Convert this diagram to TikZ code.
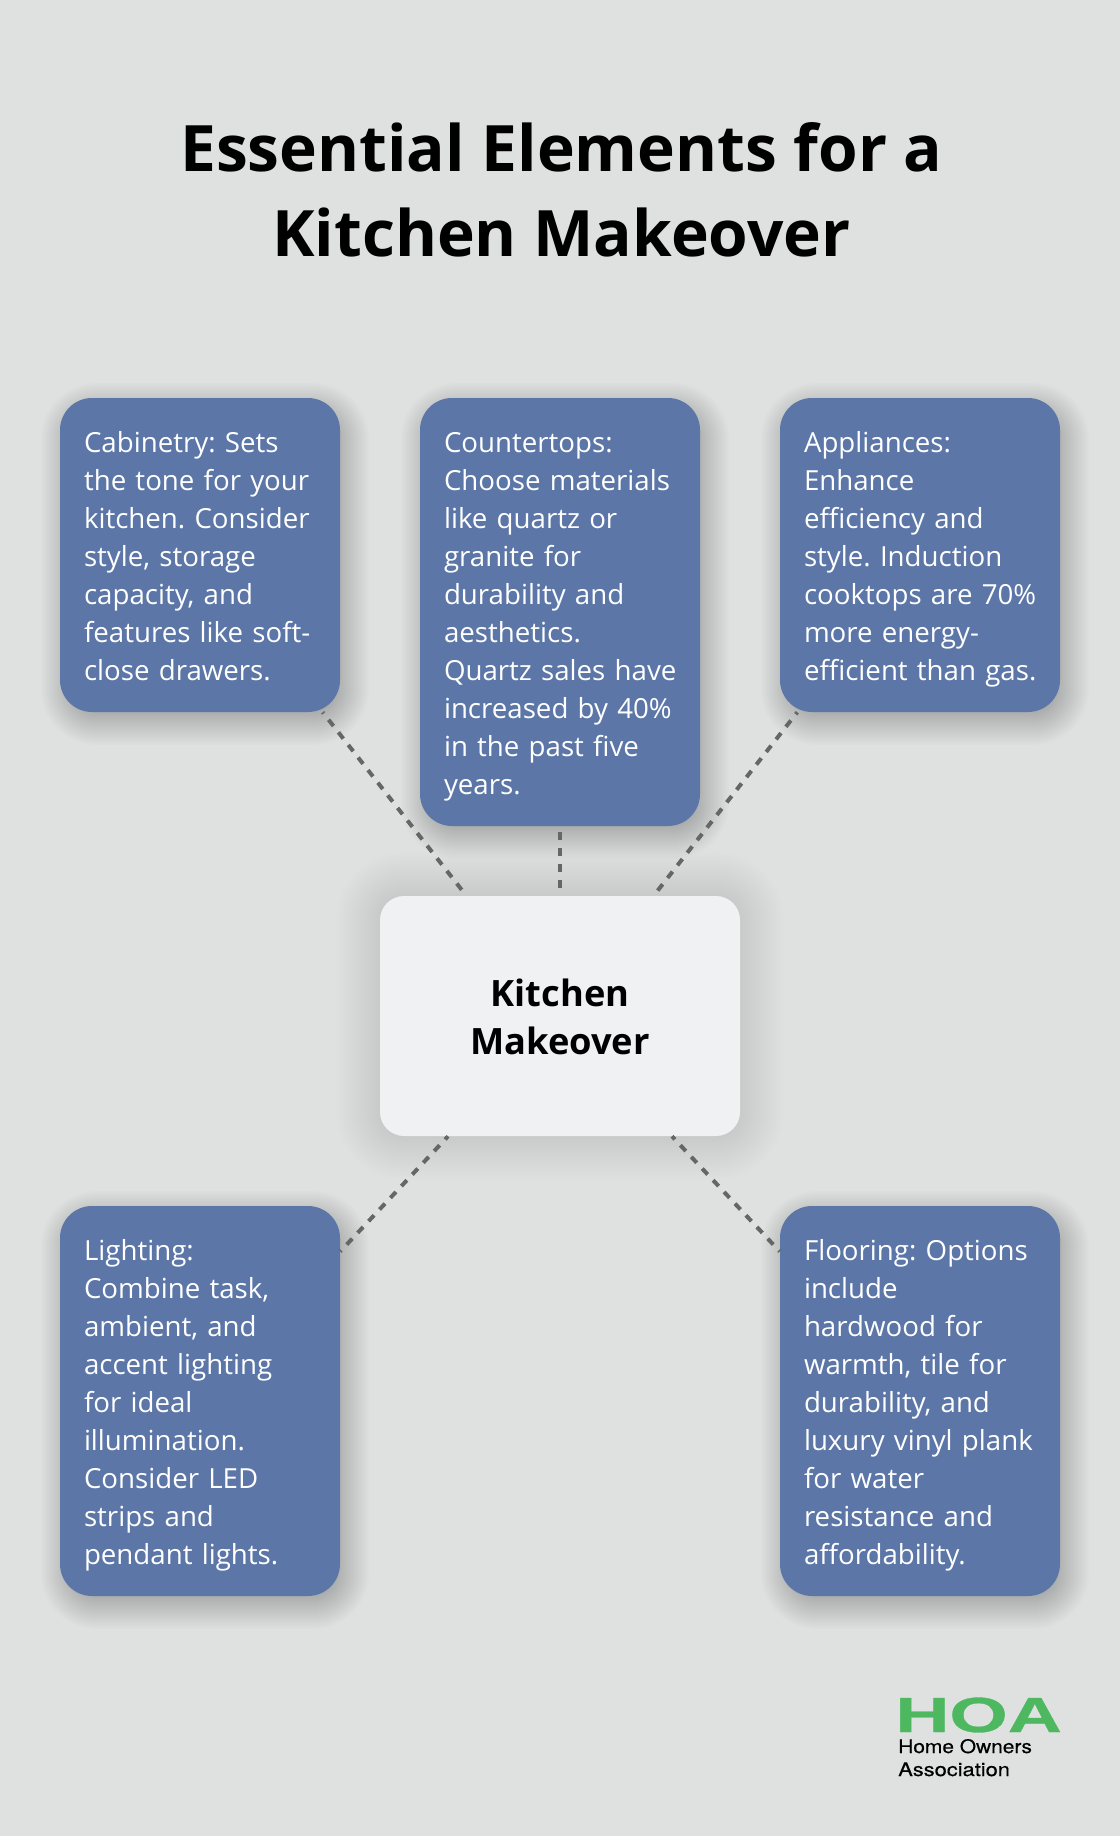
\documentclass[tikz,border=0pt]{standalone}
\usepackage{fontspec}
\usepackage{graphicx}
\setmainfont{Open Sans}
\newfontfamily\logofont[FakeBold=0.6]{Liberation Sans}
\newfontfamily\logotext[FakeBold=0.35]{TeX Gyre Heros}
\definecolor{pagebg}{HTML}{DEE1E0}
\definecolor{cardblue}{HTML}{5B76A7}
\definecolor{corewhite}{HTML}{F0F1F3}
\definecolor{linkgrey}{HTML}{666666}
\definecolor{hoagreen}{HTML}{4DB860}
\newcommand{\softshadow}[7]{%
  \pgfmathtruncatemacro{\secondval}{-#6+2}%
  \foreach \s in {-#6,\secondval,...,#6}{%
    \pgfmathsetmacro{\rr}{max(1,#5+\s)}%
    \fill[black,opacity=#7,rounded corners=\rr*0.75pt] ({#1-\s},{#2-\s}) rectangle ({#3+\s},{#4+\s});
  }%
}
\tikzset{
  x=0.75pt,y=-0.75pt,
  card/.style={fill=cardblue,text=white,rounded corners=24pt,minimum width=210pt,text width=174pt,inner xsep=18pt,inner ysep=0pt,align=left,font=\fontsize{20.75}{28.5}\selectfont\frenchspacing},
  core/.style={fill=corewhite,text=black,rounded corners=18pt,minimum width=270pt,minimum height=180pt,inner sep=0pt,align=center,font=\fontsize{27.2}{36}\selectfont\bfseries},
  title/.style={text=black,align=center,inner sep=0pt,font=\fontsize{48}{63.75}\selectfont\bfseries},
  link/.style={draw=linkgrey,line width=3pt,dash pattern=on 6pt off 6pt,dash phase=4.9pt},
}
\newcommand{\firstl}{\rule{0pt}{22.5pt}}
\newcommand{\lastl}{\rule[-6pt]{0pt}{6pt}}
\begin{document}
\begin{tikzpicture}
\useasboundingbox (0,0) rectangle (1120,1836);
\fill[pagebg] (0,0) rectangle (1120,1836);
\softshadow{380}{896}{740}{1136}{24}{44}{0.0035}
\softshadow{65}{407}{345}{721}{32}{24}{0.013}
\softshadow{425}{407}{705}{835}{32}{24}{0.013}
\softshadow{785}{407}{1065}{721}{32}{24}{0.013}
\softshadow{65}{1215}{345}{1605}{32}{24}{0.013}
\softshadow{785}{1215}{1065}{1605}{32}{24}{0.013}

\node[title] (ttl) at (561.5,190) {Essential Elements for a\\Kitchen Makeover};

\node[core] (mid) at (560,1016) {\rule{0pt}{22.3pt}Kitchen\\Makeover};
\node[card,minimum height=235.5pt] (cab) at (200,555) {\firstl Cabinetry: Sets\\the tone for your\\kitchen. Consider\\style, storage\\capacity, and\\features like soft-\\close drawers.\lastl};
\node[card,minimum height=321pt] (cou) at (560,612) {\firstl Countertops:\\Choose materials\\like quartz or\\granite for\\durability and\\aesthetics.\\\mbox{Quartz sales have}\\increased by 40\%\\in the past five\\years.\lastl};
\node[card,minimum height=235.5pt] (app) at (920,555) {\firstl Appliances:\\Enhance\\efficiency and\\style. Induction\\\mbox{cooktops are 70\%}\\more energy-\\\mbox{efficient than gas.}\lastl};
\node[card,minimum height=292.5pt] (lig) at (200,1401) {\firstl Lighting:\\Combine task,\\ambient, and\\accent lighting\\for ideal\\illumination.\\Consider LED\\strips and\\pendant lights.\lastl};
\node[card,minimum height=292.5pt] (flo) at (920,1401) {\firstl Flooring: Options\\include\\hardwood for\\warmth, tile for\\durability, and\\luxury vinyl plank\\for water\\resistance and\\affordability.\lastl};

\draw[link] (cab) -- (mid);
\draw[link,dash phase=7.5pt] (cou) -- (mid);
\draw[link,dash phase=4.2pt] (app) -- (mid);
\draw[link] (lig) -- (mid);
\draw[link] (flo) -- (mid);

\node[anchor=base west,inner sep=0pt,text=hoagreen,font=\fontsize{37}{37}\logofont\bfseries] (hoa) at (895,1732) {\scalebox{1.52}[1]{HOA}};
\node[anchor=base west,inner sep=0pt,text=black,font=\fontsize{14}{14}\logotext] (hoa1) at (898,1753) {\scalebox{1.12}[1]{Home Owners}};
\node[anchor=base west,inner sep=0pt,text=black,font=\fontsize{14}{14}\logotext] (hoa2) at (898,1776) {\scalebox{1.17}[1]{Association}};
\end{tikzpicture}
\end{document}
